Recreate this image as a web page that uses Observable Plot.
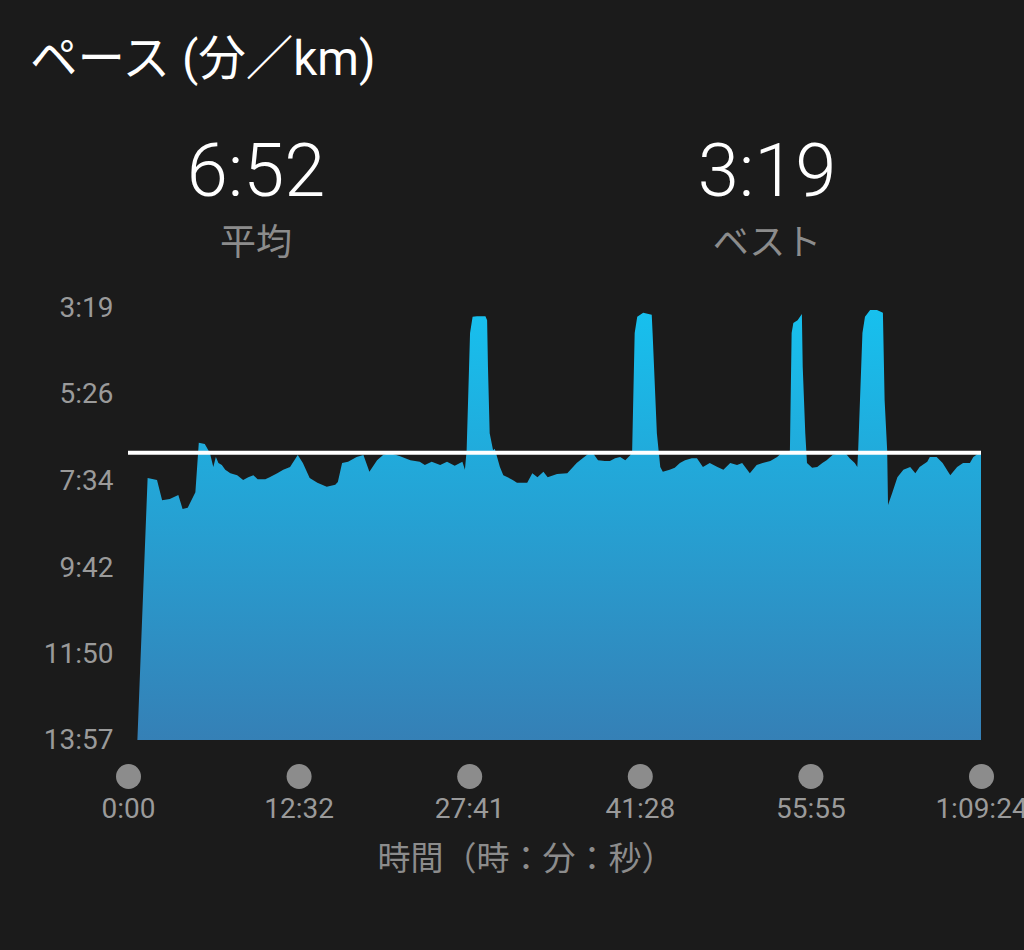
<!DOCTYPE html>
<html>
<head>
<meta charset="utf-8">
<script src="https://cdn.jsdelivr.net/npm/d3@7"></script>
<script src="https://cdn.jsdelivr.net/npm/@observablehq/plot@0.6"></script>
<style>
  html, body { margin: 0; padding: 0; background: #1b1b1b; }
  #page { position: relative; width: 1024px; height: 950px; background: #1b1b1b; overflow: hidden;
          font-family: Roboto, "Noto Sans CJK JP", sans-serif; }
  .abs { position: absolute; white-space: nowrap; line-height: 1; }
  .center { transform: translate(-50%, -50%); }
  #title { left: 30px; top: 60px; transform: translateY(-50%); font-size: 47.5px; color: #ffffff; }
  .big { font-size: 74px; font-weight: 300; color: #ffffff; }
  .sub { font-size: 36px; color: #8c8c8c; }
  #xlabel { font-size: 33px; color: #8c8c8c; }
  #chart { position: absolute; left: 0; top: 280px; }
</style>
</head>
<body>
<div id="page">
  <div id="title" class="abs">ペース (分／km)</div>
  <div id="avgVal" class="abs center big" style="left:256px; top:171px;"></div>
  <div class="abs center sub" style="left:256px; top:243px;">平均</div>
  <div id="bestVal" class="abs center big" style="left:767px; top:171px;"></div>
  <div class="abs center sub" style="left:767px; top:243px;">ベスト</div>
  <div id="chart"></div>
  <div id="xlabel" class="abs center" style="left:526px; top:858px;">時間（時：分：秒）</div>
</div>
<script>
// position along the time axis (0 = start, 100 = end, ticks evenly spaced)
const progress = [1.1,2.3,3.4,4.0,4.9,5.9,6.4,7.0,7.9,8.3,9.0,9.6,10.0,10.3,10.6,11.0,11.4,12.0,12.8,13.5,
  14.1,14.7,15.2,16.1,16.6,17.5,18.2,19.0,19.9,20.5,21.3,22.2,23.3,24.3,24.6,25.1,25.8,26.8,27.6,28.3,
  29.2,29.9,30.7,31.9,33.1,34.2,34.8,35.6,36.6,37.4,38.3,39.2,39.5,39.7,40.1,40.4,40.9,41.9,42.1,42.2,
  42.4,42.8,43.0,43.6,44.0,44.5,45.1,45.6,46.8,47.4,48.0,48.7,49.2,50.3,51.5,52.6,53.3,54.2,54.5,55.1,
  55.9,56.5,57.1,57.7,58.3,58.9,59.1,59.4,59.7,60.4,61.4,61.5,62.0,62.4,62.7,63.5,64.1,64.7,65.3,66.1,
  66.7,67.4,68.2,69.1,69.8,70.6,71.4,72.0,72.9,73.7,74.4,75.3,76.1,76.7,77.5,77.6,77.8,78.0,78.5,79.0,
  79.1,79.4,79.6,80.2,80.8,81.4,81.9,82.6,83.5,84.1,84.6,85.2,85.5,85.6,86.1,86.4,87.0,87.8,88.5,88.7,
  89.0,89.1,89.6,90.2,90.9,91.7,92.3,92.8,93.7,94.0,94.8,95.5,96.4,97.2,97.9,98.7,99.1,99.9,100];
// pace in seconds per km
const pace = [837,450,453,483,481,475,496,494,471,398,400,413,434,419,428,431,438,443,446,453,
  449,446,452,452,449,443,438,434,416,428,450,457,463,460,456,428,426,419,416,441,
  424,416,413,418,424,426,431,426,431,426,432,426,438,409,236,212,211,211,217,286,
  384,409,407,434,446,449,453,457,457,443,449,441,449,444,443,428,421,412,413,424,
  425,425,421,419,424,416,412,236,212,206,209,236,384,434,441,438,435,428,424,421,
  421,434,428,434,438,428,431,428,443,431,428,425,419,412,412,409,236,221,217,208,
  286,384,428,435,434,428,424,416,413,413,421,428,434,409,236,212,202,202,206,335,
  409,490,472,449,438,434,443,434,426,419,419,428,446,434,428,428,419,412,412];

const xTickPositions = [0, 20, 40, 60, 80, 100];
const xTickLabels = ["0:00", "12:32", "27:41", "41:28", "55:55", "1:09:24"];
const yTickValues = [199, 326, 454, 582, 710, 837];
const yTickLabels = ["3:19", "5:26", "7:34", "9:42", "11:50", "13:57"];
const averagePace = 412; // 6:52
const bestPace = 199;    // 3:19
const slowestPace = 837; // 13:57

const fmt = s => `${Math.floor(s / 60)}:${String(s % 60).padStart(2, "0")}`;
document.getElementById("avgVal").textContent = fmt(averagePace);
document.getElementById("bestVal").textContent = fmt(bestPace);

const n = Math.min(progress.length, pace.length);
const data = d3.range(n).map(i => ({p: progress[i], pace: pace[i]}));

const chart = Plot.plot({
  width: 1024,
  height: 560,
  marginLeft: 128,
  marginRight: 43,
  marginTop: 28,
  marginBottom: 100,
  style: {background: "transparent", color: "#9a9a9a", fontFamily: "Roboto, 'Noto Sans CJK JP', sans-serif", fontSize: "28px"},
  x: {domain: [0, 100], axis: null},
  y: {domain: [bestPace, slowestPace], reverse: true, axis: null},
  marks: [
    Plot.areaY(data, {x: "p", y1: slowestPace, y2: "pace", fill: "url(#paceGrad)", curve: "linear"}),
    Plot.ruleY([averagePace], {stroke: "#ffffff", strokeWidth: 4}),
    Plot.axisY({ticks: yTickValues, tickFormat: (d, i) => yTickLabels[i], tickSize: 0, tickPadding: 15,
      fontSize: 28, fill: "#9a9a9a", label: null}),
    Plot.dot(xTickPositions, {x: d => d, frameAnchor: "bottom", dy: 36, r: 12.5, fill: "#8c8c8c"}),
    Plot.axisX({ticks: xTickPositions, tickFormat: (d, i) => xTickLabels[i], tickSize: 0, tickPadding: 58,
      fontSize: 28, fill: "#9a9a9a", label: null})
  ]
});

const defs = d3.select(chart).insert("defs", ":first-child");
const grad = defs.append("linearGradient").attr("id", "paceGrad")
  .attr("x1", 0).attr("y1", 0).attr("x2", 0).attr("y2", 1);
grad.append("stop").attr("offset", 0).attr("stop-color", "#17c0ee");
grad.append("stop").attr("offset", 1).attr("stop-color", "#3580b6");

document.getElementById("chart").appendChild(chart);
</script>
</body>
</html>
